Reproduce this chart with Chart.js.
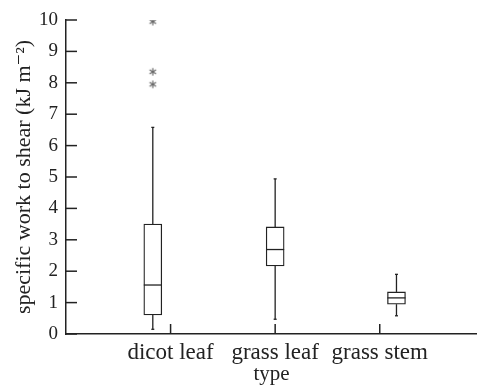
<!DOCTYPE html>
<html>
<head>
<meta charset="utf-8">
<script src="https://cdn.jsdelivr.net/npm/chart.js@4/dist/chart.umd.min.js"></script>
<style>
  html, body { margin: 0; padding: 0; background: #fff; }
  #wrap { width: 477px; height: 387px; }
</style>
</head>
<body>
<div id="wrap"><canvas id="chart" width="477" height="387"></canvas></div>
<script>
// categories and box statistics
const categories = ['dicot leaf', 'grass leaf', 'grass stem'];
const whiskerLow = [0.15, 0.47, 0.58];
const q1 = [0.61, 2.17, 0.95];
const median = [1.56, 2.69, 1.15];
const q3 = [3.5, 3.41, 1.34];
const whiskerHigh = [6.58, 4.94, 1.9];
// outliers: [category index, value]
const outlierCat = [0, 0, 0];
const outlierVal = [9.95, 8.35, 7.95];
const yTicks = [0, 1, 2, 3, 4, 5, 6, 7, 8, 9, 10];

// boxes sit a little off their category ticks in the original
const boxShift = [-0.17, 0, 0.16];
const ink = '#222';
const serif = "'Liberation Serif', 'DejaVu Serif', serif";

function starImage() {
  const c = document.createElement('canvas');
  c.width = 10; c.height = 10;
  const g = c.getContext('2d');
  g.strokeStyle = '#666';
  g.lineWidth = 1.2;
  for (let k = 0; k < 3; k++) {
    const a = Math.PI / 2 + k * Math.PI / 3;
    g.beginPath();
    g.moveTo(5 + 3.8 * Math.cos(a), 5 + 3.8 * Math.sin(a));
    g.lineTo(5 - 3.8 * Math.cos(a), 5 - 3.8 * Math.sin(a));
    g.stroke();
  }
  return c;
}

const boxData = categories.map((c, i) => ({ x: i + 1 + boxShift[i], y: [q1[i], q3[i]] }));
const outlierData = outlierVal.map((v, i) => ({ x: outlierCat[i] + 1 + boxShift[outlierCat[i]], y: v }));

// whiskers, caps, medians and the inward tick marks
const boxExtras = {
  id: 'boxExtras',
  afterDatasetsDraw(chart) {
    const ctx = chart.ctx;
    const xs = chart.scales.x, ys = chart.scales.y;
    const half = 9;
    ctx.save();
    ctx.strokeStyle = ink;
    ctx.lineWidth = 1.3;
    const line = (x1, y1, x2, y2) => {
      ctx.beginPath(); ctx.moveTo(x1, y1); ctx.lineTo(x2, y2); ctx.stroke();
    };
    categories.forEach((c, i) => {
      const px = xs.getPixelForValue(i + 1 + boxShift[i]);
      line(px, ys.getPixelForValue(q3[i]), px, ys.getPixelForValue(whiskerHigh[i]));
      line(px, ys.getPixelForValue(q1[i]), px, ys.getPixelForValue(whiskerLow[i]));
      line(px - 1.5, ys.getPixelForValue(whiskerHigh[i]), px + 1.5, ys.getPixelForValue(whiskerHigh[i]));
      line(px - 1.5, ys.getPixelForValue(whiskerLow[i]), px + 1.5, ys.getPixelForValue(whiskerLow[i]));
      line(px - half, ys.getPixelForValue(median[i]), px + half, ys.getPixelForValue(median[i]));
    });
    ctx.lineWidth = 1.5;
    yTicks.forEach(v => {
      const py = ys.getPixelForValue(v);
      line(xs.left, py, xs.left + 11, py);
    });
    [1, 2, 3].forEach(v => {
      const px = xs.getPixelForValue(v);
      line(px, ys.bottom, px, ys.bottom - 10);
    });
    ctx.restore();
  }
};

new Chart(document.getElementById('chart'), {
  type: 'bar',
  data: {
    datasets: [{
      data: boxData,
      backgroundColor: '#fff',
      borderColor: ink,
      borderWidth: 1.3,
      borderSkipped: false,
      barThickness: 18
    }, {
      type: 'scatter',
      data: outlierData,
      pointStyle: starImage(),
      pointRadius: 5
    }]
  },
  options: {
    responsive: false,
    animation: false,
    layout: { autoPadding: false, padding: { top: 20, right: 0, left: 0, bottom: 0 } },
    plugins: { legend: { display: false }, tooltip: { enabled: false } },
    scales: {
      x: {
        type: 'linear',
        offset: false,
        min: 0,
        max: 3.93,
        afterBuildTicks: s => { s.ticks = [1, 2, 3].map(v => ({ value: v })); },
        afterFit: s => { s.height = 53; s.paddingRight = 0; s.paddingLeft = 0; },
        grid: { display: false, drawTicks: false },
        border: { color: ink, width: 1.5 },
        ticks: {
          callback: v => categories[v - 1],
          color: ink,
          padding: 5,
          maxRotation: 0,
          font: { family: serif, size: 23 }
        },
        title: {
          display: true,
          text: 'type',
          color: ink,
          padding: { top: -4, bottom: 0 },
          font: { family: serif, size: 21 }
        }
      },
      y: {
        min: 0,
        max: 10,
        afterBuildTicks: s => { s.ticks = yTicks.map(v => ({ value: v })); },
        afterFit: s => { s.width = 66; },
        grid: { display: false, drawTicks: false },
        border: { color: ink, width: 1.5 },
        ticks: {
          color: ink,
          padding: 8,
          font: { family: serif, size: 19 }
        },
        title: {
          display: true,
          text: 'specific work to shear (kJ m\u207B\u00B2)',
          color: ink,
          padding: { top: 11, bottom: 0 },
          font: { family: serif, size: 22 }
        }
      }
    }
  },
  plugins: [boxExtras]
});
</script>
</body>
</html>
